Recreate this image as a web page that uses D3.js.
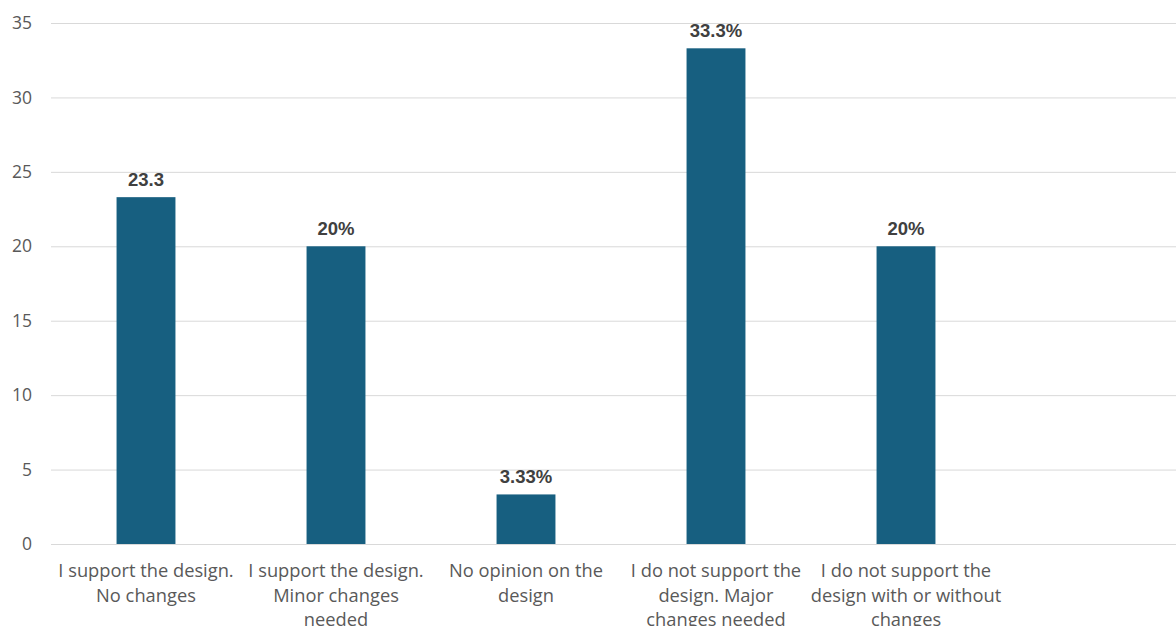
<!DOCTYPE html>
<html><head><meta charset="utf-8">
<script src="https://cdn.jsdelivr.net/npm/d3@7"></script>
<style>body{margin:0;background:#fff}svg{display:block}</style>
</head><body>
<svg id="c" width="1176" height="626"></svg>
<script>
const categories = [
  ["I support the design.", "No changes"],
  ["I support the design.", "Minor changes", "needed"],
  ["No opinion on the", "design"],
  ["I do not support the", "design. Major", "changes needed"],
  ["I do not support the", "design with or without", "changes"]
];
const values = [23.3, 20, 3.33, 33.3, 20];
const valueLabels = ["23.3", "20%", "3.33%", "33.3%", "20%"];
const yTicks = [0, 5, 10, 15, 20, 25, 30, 35];

const svg = d3.select("#c");
const font = "'Open Sans', 'Liberation Sans', Arial, sans-serif";
const boldFont = "'Liberation Sans', Arial, sans-serif";
const x = d3.scaleBand().domain(d3.range(values.length)).range([51, 1001]).paddingInner(0.69).paddingOuter(0.345);
const y = d3.scaleLinear().domain([0, 35]).range([544, 23]);

const yAxis = d3.axisLeft(y).tickValues(yTicks).tickSize(-(1176 - 51)).tickPadding(19);
const gy = svg.append("g").attr("transform", "translate(51,0)").call(yAxis);
gy.select(".domain").remove();
gy.selectAll(".tick line").attr("stroke", "#d9d9d9").attr("stroke-width", 1);
gy.selectAll(".tick text").attr("fill", "#595959").style("font-family", font).style("font-size", "17.5px");

svg.append("g").selectAll("rect").data(values).join("rect")
  .attr("x", (d, i) => x(i)).attr("width", x.bandwidth())
  .attr("y", d => y(d)).attr("height", d => y(0) - y(d))
  .attr("fill", "#175F80");

svg.append("g").selectAll("text").data(values).join("text")
  .attr("x", (d, i) => x(i) + x.bandwidth() / 2)
  .attr("y", d => y(d) - 11)
  .attr("text-anchor", "middle")
  .attr("fill", "#404040")
  .style("font-family", boldFont).style("font-size", "18.5px").style("font-weight", "bold")
  .text((d, i) => valueLabels[i]);

const cat = svg.append("g").selectAll("text").data(categories).join("text")
  .attr("text-anchor", "middle")
  .attr("fill", "#595959")
  .style("font-family", font).style("font-size", "18.3px");
cat.each(function(lines, i) {
  const t = d3.select(this);
  lines.forEach((l, j) => {
    t.append("tspan").attr("x", x(i) + x.bandwidth() / 2).attr("y", 577 + j * 24.5).text(l);
  });
});
</script>
</body></html>
